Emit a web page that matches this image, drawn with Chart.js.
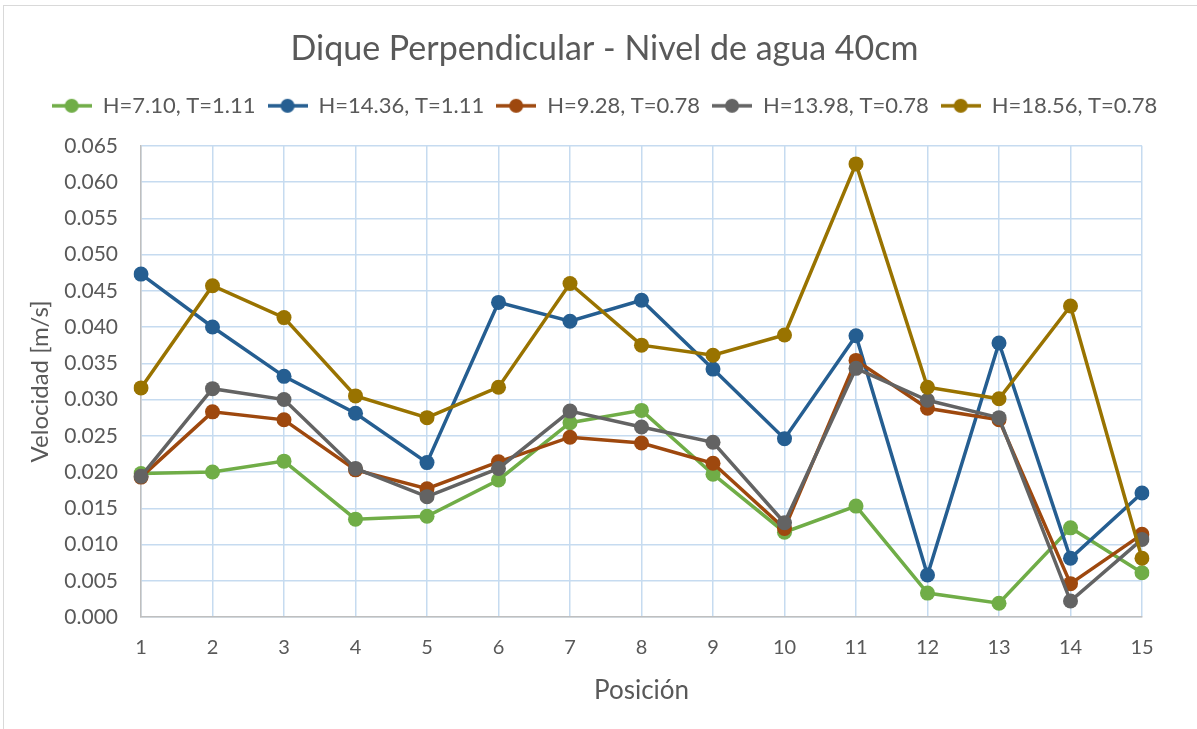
<!DOCTYPE html>
<html>
<head>
<meta charset="utf-8">
<script src="https://cdn.jsdelivr.net/npm/chart.js@4.4.0/dist/chart.umd.min.js"></script>
<style>
  body { margin: 0; background: #fff; }
  #marco { position: absolute; left: 3px; top: 5px; width: 1210px; height: 740px; border: 1px solid #d9d9d9; }
  #myChart { position: absolute; left: 0; top: 0; }
</style>
</head>
<body>
<div id="marco"></div>
<canvas id="myChart" width="1197" height="729"></canvas>
<script>
// Posiciones de medición
const posiciones = ['1', '2', '3', '4', '5', '6', '7', '8', '9', '10', '11', '12', '13', '14', '15'];

// Velocidades [m/s]
const h710_t111 = [0.0198, 0.0200, 0.0215, 0.0135, 0.0139, 0.0189, 0.0268, 0.0285, 0.0197, 0.0117, 0.0153, 0.0033, 0.0019, 0.0123, 0.0061];
const h1436_t111 = [0.0473, 0.0400, 0.0332, 0.0281, 0.0213, 0.0434, 0.0408, 0.0437, 0.0342, 0.0246, 0.0388, 0.0058, 0.0378, 0.0081, 0.0171];
const h928_t078 = [0.0193, 0.0283, 0.0272, 0.0203, 0.0177, 0.0214, 0.0248, 0.0240, 0.0212, 0.0122, 0.0354, 0.0288, 0.0272, 0.0046, 0.0114];
const h1398_t078 = [0.0194, 0.0315, 0.0300, 0.0205, 0.0166, 0.0205, 0.0284, 0.0262, 0.0241, 0.0130, 0.0343, 0.0299, 0.0275, 0.0022, 0.0107];
const h1856_t078 = [0.0316, 0.0457, 0.0413, 0.0305, 0.0275, 0.0317, 0.0460, 0.0375, 0.0361, 0.0389, 0.0625, 0.0317, 0.0301, 0.0429, 0.0081];

const nombres = ['H=7.10, T=1.11', 'H=14.36, T=1.11', 'H=9.28, T=0.78', 'H=13.98, T=0.78', 'H=18.56, T=0.78'];
const colores = ['#70ad47', '#255e91', '#9e480e', '#636363', '#997300'];
const series = [h710_t111, h1436_t111, h928_t078, h1398_t078, h1856_t078];

const textoGris = '#595959';
const fuente = 'Lato, "Open Sans", sans-serif';

// marcador de leyenda: línea + círculo, como en Excel
function marcador(color) {
  const c = document.createElement('canvas');
  c.width = 40; c.height = 18;
  const g = c.getContext('2d');
  g.strokeStyle = color; g.lineWidth = 3.5;
  g.beginPath(); g.moveTo(0, 9); g.lineTo(40, 9); g.stroke();
  g.fillStyle = color;
  g.beginPath(); g.arc(20, 9, 7, 0, Math.PI * 2); g.fill();
  return c;
}

// espacio extra bajo la leyenda
const margenLeyenda = {
  id: 'margenLeyenda',
  beforeLayout(chart) {
    const leg = chart.legend;
    if (leg && !leg._parcheado) {
      const fit = leg.fit;
      leg.fit = function () { fit.call(this); this.height += 19; };
      leg._parcheado = true;
    }
  }
};

const ctx = document.getElementById('myChart').getContext('2d');
new Chart(ctx, {
  type: 'line',
  data: {
    labels: posiciones,
    datasets: series.map((datos, i) => ({
      label: nombres[i],
      data: datos,
      borderColor: colores[i],
      backgroundColor: colores[i],
      borderWidth: 3.5,
      pointRadius: 7.5,
      pointHoverRadius: 7.5,
      pointBorderWidth: 0,
      tension: 0,
      order: series.length - i,
    })),
  },
  options: {
    responsive: false,
    animation: false,
    layout: { padding: { left: 12, right: 0, top: 0, bottom: 0 } },
    plugins: {
      title: {
        display: true,
        text: 'Dique Perpendicular - Nivel de agua 40cm',
        color: textoGris,
        font: { family: fuente, size: 34, weight: 'normal' },
        padding: { top: 29, bottom: 13 },
      },
      legend: {
        display: true,
        labels: {
          usePointStyle: true,
          pointStyleWidth: 40,
          padding: 12,
          color: textoGris,
          font: { family: fuente, size: 22 },
          generateLabels: (chart) => chart.data.datasets.map((ds, i) => ({
            text: ds.label,
            fillStyle: ds.borderColor,
            strokeStyle: ds.borderColor,
            lineWidth: 0,
            pointStyle: marcador(ds.borderColor),
            datasetIndex: i,
            hidden: false,
            fontColor: textoGris,
          })),
        },
      },
      tooltip: { enabled: false },
    },
    scales: {
      x: {
        grid: { color: '#c6dbf0', lineWidth: 1.5, drawTicks: false },
        border: { color: '#bfbfbf', width: 1.5 },
        ticks: { color: textoGris, font: { family: fuente, size: 20 }, padding: 19, maxRotation: 0 },
        title: {
          display: true,
          text: 'Posición',
          color: textoGris,
          font: { family: fuente, size: 26 },
          padding: { top: 0, bottom: 23 },
        },
        afterFit: (scale) => { scale.height = 112; },
      },
      y: {
        min: 0,
        max: 0.065,
        grid: { color: '#c6dbf0', lineWidth: 1.5, drawTicks: false },
        border: { color: '#bfbfbf', width: 1.5 },
        ticks: {
          stepSize: 0.005,
          color: textoGris,
          font: { family: fuente, size: 21 },
          padding: 23,
          callback: (v) => v.toFixed(3),
        },
        title: {
          display: true,
          text: 'Velocidad [m/s]',
          color: textoGris,
          font: { family: fuente, size: 24 },
          padding: { top: 14, bottom: 0 },
        },
        afterFit: (scale) => { scale.width = 129; },
      },
      derecha: {
        position: 'right',
        display: true,
        grid: { display: false },
        border: { display: false },
        ticks: { display: false },
        afterFit: (scale) => { scale.width = 55; },
      },
    },
  },
  plugins: [margenLeyenda],
});
</script>
</body>
</html>
